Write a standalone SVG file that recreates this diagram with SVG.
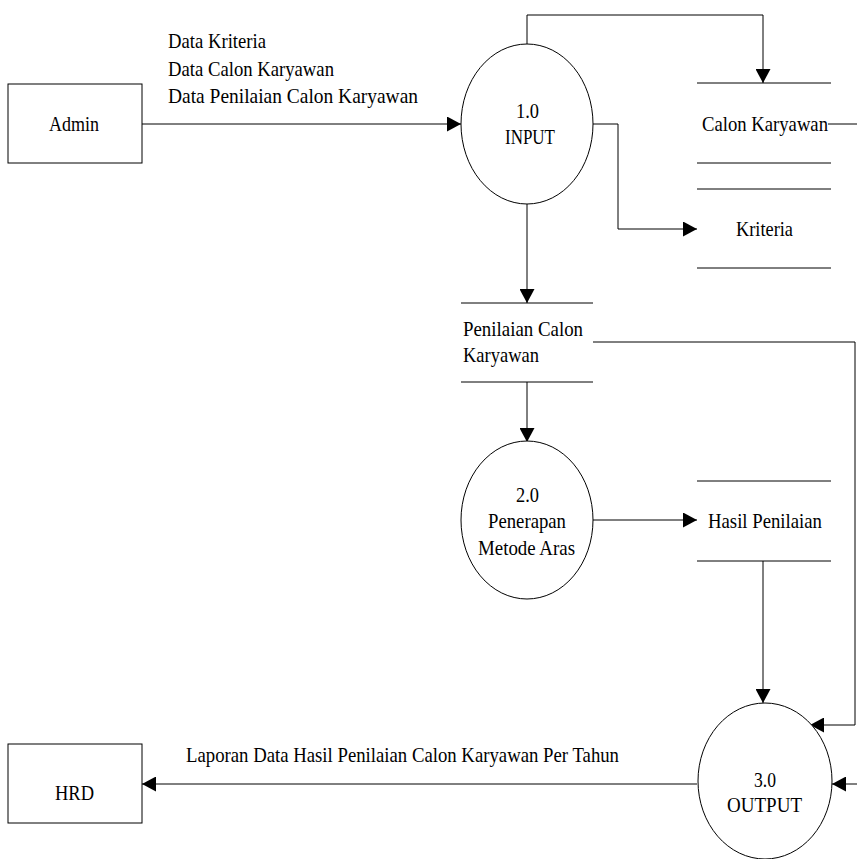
<svg xmlns="http://www.w3.org/2000/svg" width="857" height="859" viewBox="0 0 857 859">
  <defs>
    <marker id="arrow" viewBox="0 0 14 15" markerWidth="14" markerHeight="15" refX="14" refY="7.5" orient="auto" markerUnits="userSpaceOnUse">
      <path d="M0,0 L14,7.5 L0,15 z" fill="#000"/>
    </marker>
    <style>
      .box { fill: #fff; stroke: #000; stroke-width: 1; }
      .proc { fill: #fff; stroke: #000; stroke-width: 1; }
      .store { stroke: #000; stroke-width: 1; fill: none; }
      .flow { fill: none; stroke: #000; stroke-width: 1; }
      .arr { marker-end: url(#arrow); }
      text { font-size: 21px; fill: #000; }
    </style>
  </defs>
  <rect width="857" height="859" fill="#fff"/>

  <g font-family="Liberation Serif, DejaVu Serif, serif">
  <!-- data flows -->
  <g id="connectors">
    <path class="flow arr" d="M142,124 H461"/>
    <path class="flow arr" d="M527,44 V15 H763 V83"/>
    <path class="flow arr" d="M593,124 H618 V229 H697"/>
    <path class="flow arr" d="M527,203 V303"/>
    <path class="flow arr" d="M527,382 V442"/>
    <path class="flow arr" d="M593,520 H697"/>
    <path class="flow arr" d="M593,342 H855 V725 H810"/>
    <path class="flow arr" d="M763,561 V703"/>
    <path class="flow" d="M828,124 H857"/>
    <path class="flow arr" d="M857,784 H832"/>
    <path class="flow arr" d="M697,784 H142"/>
    <g id="flow-labels">
      <text x="168" y="48" textLength="98" lengthAdjust="spacingAndGlyphs">Data Kriteria</text>
      <text x="168" y="76" textLength="166" lengthAdjust="spacingAndGlyphs">Data Calon Karyawan</text>
      <text x="168" y="103" textLength="250" lengthAdjust="spacingAndGlyphs">Data Penilaian Calon Karyawan</text>
      <text x="186" y="762" textLength="433" lengthAdjust="spacingAndGlyphs">Laporan Data Hasil Penilaian Calon Karyawan Per Tahun</text>
    </g>
  </g>

  <!-- external entities -->
  <g id="admin">
    <rect class="box" x="8" y="84" width="134" height="79"/>
    <text x="49" y="131" textLength="50" lengthAdjust="spacingAndGlyphs">Admin</text>
  </g>
  <g id="hrd">
    <rect class="box" x="8" y="744" width="134" height="79"/>
    <text x="55" y="800" textLength="39" lengthAdjust="spacingAndGlyphs">HRD</text>
  </g>

  <!-- processes -->
  <g id="input">
    <ellipse class="proc" cx="527" cy="124" rx="66" ry="80"/>
    <text x="516" y="118" textLength="23" lengthAdjust="spacingAndGlyphs">1.0</text>
    <text x="505" y="144" textLength="50" lengthAdjust="spacingAndGlyphs">INPUT</text>
  </g>
  <g id="penerapan">
    <ellipse class="proc" cx="527" cy="520" rx="66" ry="79"/>
    <text x="516" y="502" textLength="23" lengthAdjust="spacingAndGlyphs">2.0</text>
    <text x="488" y="528" textLength="78" lengthAdjust="spacingAndGlyphs">Penerapan</text>
    <text x="478" y="555" textLength="97" lengthAdjust="spacingAndGlyphs">Metode Aras</text>
  </g>
  <g id="output">
    <ellipse class="proc" cx="765" cy="781" rx="67" ry="78"/>
    <text x="754" y="787" textLength="22" lengthAdjust="spacingAndGlyphs">3.0</text>
    <text x="727" y="812" textLength="75" lengthAdjust="spacingAndGlyphs">OUTPUT</text>
  </g>

  <!-- data stores -->
  <g id="store-calon-karyawan">
    <path class="store" d="M697,83 H831 M697,163 H831"/>
    <text x="702" y="131" textLength="126" lengthAdjust="spacingAndGlyphs">Calon Karyawan</text>
  </g>
  <g id="store-kriteria">
    <path class="store" d="M697,189 H831 M697,268 H831"/>
    <text x="736" y="236" textLength="57" lengthAdjust="spacingAndGlyphs">Kriteria</text>
  </g>
  <g id="store-penilaian">
    <path class="store" d="M461,303 H593 M461,382 H593"/>
    <text x="463" y="336" textLength="120" lengthAdjust="spacingAndGlyphs">Penilaian Calon</text>
    <text x="463" y="362" textLength="76" lengthAdjust="spacingAndGlyphs">Karyawan</text>
  </g>
  <g id="store-hasil">
    <path class="store" d="M697,481 H831 M697,561 H831"/>
    <text x="708" y="528" textLength="114" lengthAdjust="spacingAndGlyphs">Hasil Penilaian</text>
  </g>
  </g>
</svg>
